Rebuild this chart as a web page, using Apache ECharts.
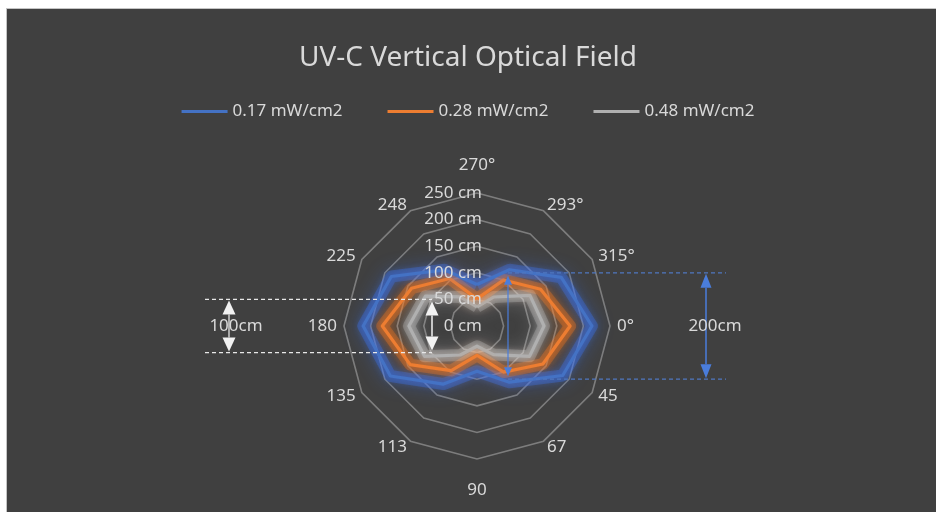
<!DOCTYPE html>
<html>
<head>
<meta charset="utf-8">
<script src="https://cdn.jsdelivr.net/npm/echarts@6/dist/echarts.min.js"></script>
<style>
  html, body { margin: 0; padding: 0; background: #fff; }
  #bg { position: absolute; left: 6px; top: 8px; width: 930px; height: 504px; background: #404040; border-left: 1px solid #c4c4c4; border-top: 1px solid #c4c4c4; }
  #chart { position: absolute; left: 0; top: 0; width: 936px; height: 512px; }
</style>
</head>
<body>
<div id="bg"></div>
<div id="chart"></div>
<script>
// categories, clockwise from the top as in the original chart
const angles = ['270°', '293°', '315°', '0°', '45', '67', '90', '113', '135', '180', '225', '248']
const uv017 = [78, 122, 183, 216, 186, 122, 85, 126, 188, 214, 186, 122]
const uv028 = [51, 100, 138, 175, 143, 100, 55, 97, 145, 178, 142, 103]
const uv048 = [36, 63, 115, 126, 114, 62, 38, 63, 114, 128, 112, 63]
const seriesNames = ['0.17 mW/cm2', '0.28 mW/cm2', '0.48 mW/cm2']
const seriesColors = ['#4472c4', '#ed7d31', '#b0b0b0']
const glowColors = ['#3a78ff', '#ff7a1f', '#e6e6e6']
const axisMax = 250
const axisSplits = 5
// annotation spans (cm)
const spanSmall = 100
const spanLarge = 200

const CX = 477, CY = 326, R = 133
const TEXT = '#d9d9d9'
const FONT = '"Noto Sans", sans-serif'

// echarts radar runs counter-clockwise, so feed it in reverse
const order = angles.map((_, i) => (angles.length - i) % angles.length)

const indicator = order.map(i => ({
  name: angles[i], min: 0, max: axisMax, nameGap: i === 0 ? 19 : (i === 6 ? 23 : 7),
}))
// second, label-only copy so the "cm" ticks sit above the glowing lines
const labelIndicator = order.map(i => {
  const ind = { name: angles[i], min: 0, max: axisMax }
  if (i === 0) ind.axisLabel = { show: true }
  return ind
})

const allData = [uv017, uv028, uv048]

const chart = echarts.init(document.getElementById('chart'), null, { renderer: 'canvas' })

const cmToPx = cm => R * cm / axisMax

function arrow(x, y1, y2, color, w, h, lw) {
  return [
    { type: 'line', z: 100, shape: { x1: x, y1: y1 + h, x2: x, y2: y2 - h }, style: { stroke: color, lineWidth: lw } },
    { type: 'polygon', z: 100, shape: { points: [[x, y1], [x - w / 2, y1 + h], [x + w / 2, y1 + h]] }, style: { fill: color } },
    { type: 'polygon', z: 100, shape: { points: [[x, y2], [x - w / 2, y2 - h], [x + w / 2, y2 - h]] }, style: { fill: color } },
  ]
}

const ySmallTop = CY - cmToPx(spanSmall / 2), ySmallBot = CY + cmToPx(spanSmall / 2)
const yLargeTop = CY - cmToPx(spanLarge / 2), yLargeBot = CY + cmToPx(spanLarge / 2)

const graphics = [
  { type: 'line', z: 100, shape: { x1: 205, y1: ySmallTop, x2: 432, y2: ySmallTop }, style: { stroke: '#e8e8e8', lineWidth: 1.3, lineDash: [4, 3] } },
  { type: 'line', z: 100, shape: { x1: 205, y1: ySmallBot, x2: 432, y2: ySmallBot }, style: { stroke: '#e8e8e8', lineWidth: 1.3, lineDash: [4, 3] } },
  ...arrow(229, ySmallTop + 1, ySmallBot - 1, '#f2f2f2', 13, 14, 1.2),
  ...arrow(432, ySmallTop + 2, ySmallBot - 2, '#f2f2f2', 13, 14, 1.5),
  { type: 'text', z: 100, style: { x: 236, y: CY, text: '100cm', fill: TEXT, font: '17px ' + FONT, textAlign: 'center', textVerticalAlign: 'middle' } },
  { type: 'line', z: 100, shape: { x1: 508, y1: yLargeTop, x2: 726, y2: yLargeTop }, style: { stroke: '#4f77c0', lineWidth: 1.2, lineDash: [4, 3] } },
  { type: 'line', z: 100, shape: { x1: 508, y1: yLargeBot, x2: 726, y2: yLargeBot }, style: { stroke: '#4f77c0', lineWidth: 1.2, lineDash: [4, 3] } },
  ...arrow(706, yLargeTop + 1, yLargeBot - 1, '#4a7ddb', 11, 14, 1.5),
  ...arrow(508, yLargeTop + 3, yLargeBot - 3, '#4a7ddb', 8, 9, 1.2),
  { type: 'text', z: 100, style: { x: 715, y: CY, text: '200cm', fill: TEXT, font: '17px ' + FONT, textAlign: 'center', textVerticalAlign: 'middle' } },
]

// soft halo under each line, then the lines themselves
const glowSeries = seriesNames.map((name, k) => ({
  name: name + ' glow',
  type: 'radar',
  radarIndex: 0,
  symbol: 'none',
  silent: true,
  z: 3,
  lineStyle: { color: glowColors[k], width: 12, opacity: k === 2 ? 0.22 : 0.3, shadowColor: glowColors[k], shadowBlur: 18 },
  data: [{ name: name + ' glow', value: order.map(i => allData[k][i]) }],
}))

const lineSeries = seriesNames.map((name, k) => ({
  name,
  type: 'radar',
  radarIndex: 0,
  symbol: 'none',
  z: 6 - k,
  lineStyle: { color: seriesColors[k], width: 3.2, shadowColor: glowColors[k], shadowBlur: 8 },
  itemStyle: { color: seriesColors[k] },
  data: [{ name, value: order.map(i => allData[k][i]) }],
}))

const option = {
  backgroundColor: 'transparent',
  title: {
    text: 'UV-C Vertical Optical Field',
    left: 'center', top: 39,
    textStyle: { color: TEXT, fontSize: 28, fontWeight: 'normal', fontFamily: FONT },
  },
  legend: {
    data: seriesNames,
    top: 98, left: 'center',
    icon: 'rect', itemWidth: 46, itemHeight: 3, itemGap: 45,
    textStyle: { color: TEXT, fontSize: 17, fontFamily: FONT },
    itemStyle: { shadowBlur: 0 },
  },
  radar: [
    {
      center: [CX, CY],
      radius: R,
      startAngle: 90,
      shape: 'polygon',
      splitNumber: axisSplits,
      z: 2,
      indicator,
      axisName: { color: TEXT, fontSize: 17, fontFamily: FONT },
      axisLine: { show: false },
      axisTick: { show: false },
      axisLabel: { show: false },
      splitLine: { lineStyle: { color: '#7d7d7d', width: 1.6 } },
      splitArea: { show: false },
    },
    {
      center: [CX, CY],
      radius: R,
      startAngle: 90,
      shape: 'polygon',
      splitNumber: axisSplits,
      z: 20,
      indicator: labelIndicator,
      axisName: { show: false },
      axisLine: { show: false },
      axisTick: { show: false },
      axisLabel: { show: false, color: TEXT, fontSize: 17, fontFamily: FONT, margin: -5, formatter: v => v + ' cm' },
      splitLine: { show: false },
      splitArea: { show: false },
    },
  ],
  series: [...glowSeries, ...lineSeries],
  graphic: graphics,
}

chart.setOption(option)
</script>
</body>
</html>
